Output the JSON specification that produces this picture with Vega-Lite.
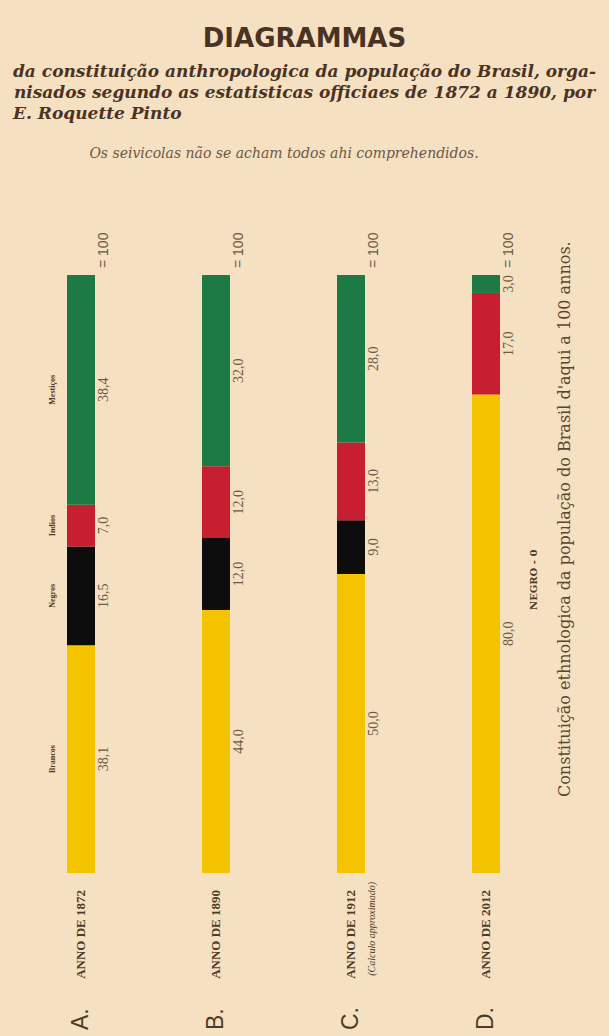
{
  "$schema": "https://vega.github.io/schema/vega-lite/v6.json",
  "autosize": {"type": "none"},
  "width": 540,
  "height": 598,
  "padding": {"left": 13.5, "top": 275, "right": 55.5, "bottom": 163},
  "background": "#f6e0c2",
  "config": {
    "view": {"stroke": null},
    "locale": {"number": {"decimal": ",", "thousands": ".", "grouping": [3], "currency": ["", ""]}}
  },
  "title": {
    "text": "DIAGRAMMAS",
    "subtitle": [
      "da constituição anthropologica da população do Brasil, orga-",
      "nisados segundo as estatisticas officiaes de 1872 a 1890, por",
      "E. Roquette Pinto\u00a0\u00a0\u00a0\u00a0\u00a0\u00a0\u00a0\u00a0\u00a0\u00a0\u00a0\u00a0\u00a0\u00a0\u00a0\u00a0\u00a0\u00a0\u00a0\u00a0\u00a0\u00a0\u00a0\u00a0\u00a0\u00a0\u00a0\u00a0\u00a0\u00a0\u00a0\u00a0\u00a0\u00a0\u00a0\u00a0\u00a0\u00a0\u00a0\u00a0\u00a0\u00a0\u00a0\u00a0\u00a0\u00a0\u00a0\u00a0\u00a0\u00a0\u00a0\u00a0\u00a0\u00a0\u00a0\u00a0\u00a0\u00a0\u00a0\u00a0\u00a0\u00a0\u00a0\u00a0\u00a0\u00a0\u00a0\u00a0\u00a0\u00a0\u200b"
    ],
    "anchor": "middle",
    "dx": 21,
    "offset": 24,
    "font": "DejaVu Sans",
    "fontSize": 26,
    "fontWeight": "bold",
    "color": "#4a3322",
    "subtitleFont": "DejaVu Serif",
    "subtitleFontSize": 17,
    "subtitleFontStyle": "italic",
    "subtitleFontWeight": "bold",
    "subtitleColor": "#4a3322",
    "subtitleLineHeight": 21,
    "subtitlePadding": 12
  },
  "datasets": {
    "bars": [
      {"col": "A", "race": "Brancos", "ordem": 1, "value": 38.1},
      {"col": "A", "race": "Negros", "ordem": 2, "value": 16.5},
      {"col": "A", "race": "Indios", "ordem": 3, "value": 7.0},
      {"col": "A", "race": "Mestiços", "ordem": 4, "value": 38.4},
      {"col": "B", "race": "Brancos", "ordem": 1, "value": 44.0},
      {"col": "B", "race": "Negros", "ordem": 2, "value": 12.0},
      {"col": "B", "race": "Indios", "ordem": 3, "value": 12.0},
      {"col": "B", "race": "Mestiços", "ordem": 4, "value": 32.0},
      {"col": "C", "race": "Brancos", "ordem": 1, "value": 50.0},
      {"col": "C", "race": "Negros", "ordem": 2, "value": 9.0},
      {"col": "C", "race": "Indios", "ordem": 3, "value": 13.0},
      {"col": "C", "race": "Mestiços", "ordem": 4, "value": 28.0},
      {"col": "D", "race": "Brancos", "ordem": 1, "value": 80.0},
      {"col": "D", "race": "Negros", "ordem": 2, "value": 0.0},
      {"col": "D", "race": "Indios", "ordem": 3, "value": 17.0},
      {"col": "D", "race": "Mestiços", "ordem": 4, "value": 3.0}
    ],
    "cols": [
      {"col": "A", "letra": "A.", "anno": "ANNO DE 1872"},
      {"col": "B", "letra": "B.", "anno": "ANNO DE 1890"},
      {"col": "C", "letra": "C.", "anno": "ANNO DE 1912", "nota": "(Calculo approximado)"},
      {"col": "D", "letra": "D.", "anno": "ANNO DE 2012", "aviso": "NEGRO - 0", "legenda": "Constituição ethnologica da população do Brasil d'aqui a 100 annos."}
    ]
  },
  "encoding": {
    "x": {
      "field": "col",
      "type": "nominal",
      "scale": {"domain": ["A", "B", "C", "D"], "paddingInner": 0, "paddingOuter": 0},
      "axis": {
        "orient": "top",
        "labels": false,
        "ticks": false,
        "domain": false,
        "grid": false,
        "title": "Os seivicolas não se acham todos ahi comprehendidos.",
        "titleFont": "DejaVu Serif",
        "titleFontStyle": "italic",
        "titleFontWeight": "normal",
        "titleFontSize": 14,
        "titleColor": "#6b5843",
        "titlePadding": 115
      }
    }
  },
  "layer": [
    {
      "data": {"name": "bars"},
      "transform": [
        {"stack": "value", "groupby": ["col"], "sort": [{"field": "ordem"}], "as": ["v0", "v1"]}
      ],
      "mark": {"type": "bar", "width": 28},
      "encoding": {
        "y": {"field": "v0", "type": "quantitative", "scale": {"domain": [0, 100], "nice": false, "zero": true}, "axis": null},
        "y2": {"field": "v1"},
        "color": {
          "field": "race",
          "type": "nominal",
          "scale": {"domain": ["Brancos", "Negros", "Indios", "Mestiços"], "range": ["#f4c400", "#0d0d0d", "#c81f30", "#1d7a45"]},
          "legend": null
        }
      }
    },
    {
      "data": {"name": "bars"},
      "transform": [
        {"stack": "value", "groupby": ["col"], "sort": [{"field": "ordem"}], "as": ["v0", "v1"]},
        {"filter": "datum.value > 0"},
        {"calculate": "(datum.v0 + datum.v1) / 2", "as": "meio"}
      ],
      "mark": {"type": "text", "angle": 270, "align": "center", "baseline": "middle", "dy": 23, "font": "Liberation Serif", "fontSize": 14, "color": "#6b5a44"},
      "encoding": {
        "y": {"field": "meio", "type": "quantitative", "axis": null},
        "text": {"field": "value", "type": "quantitative", "format": ".1f"}
      }
    },
    {
      "data": {"name": "bars"},
      "transform": [
        {"stack": "value", "groupby": ["col"], "sort": [{"field": "ordem"}], "as": ["v0", "v1"]},
        {"filter": "datum.col == 'A'"},
        {"calculate": "(datum.v0 + datum.v1) / 2", "as": "meio"}
      ],
      "mark": {"type": "text", "angle": 270, "align": "center", "baseline": "middle", "dy": -28, "font": "Liberation Serif", "fontSize": 8, "fontWeight": "bold", "color": "#4d3b27"},
      "encoding": {
        "y": {"field": "meio", "type": "quantitative", "axis": null},
        "text": {"field": "race", "type": "nominal"}
      }
    },
    {
      "data": {"name": "cols"},
      "mark": {"type": "text", "text": "= 100", "angle": 270, "align": "left", "baseline": "middle", "dx": 7, "dy": 23, "font": "Liberation Sans", "fontSize": 14, "color": "#6b5a44"},
      "encoding": {
        "y": {"datum": 100, "type": "quantitative", "axis": null}
      }
    },
    {
      "data": {"name": "cols"},
      "mark": {"type": "text", "angle": 270, "align": "left", "baseline": "middle", "dx": -157, "font": "Liberation Sans", "fontSize": 23, "color": "#4d3b27"},
      "encoding": {
        "y": {"datum": 0, "type": "quantitative", "axis": null},
        "text": {"field": "letra", "type": "nominal"}
      }
    },
    {
      "data": {"name": "cols"},
      "mark": {"type": "text", "angle": 270, "align": "right", "baseline": "middle", "dx": -17, "font": "Liberation Serif", "fontSize": 13, "fontWeight": "bold", "color": "#4d3b27"},
      "encoding": {
        "y": {"datum": 0, "type": "quantitative", "axis": null},
        "text": {"field": "anno", "type": "nominal"}
      }
    },
    {
      "data": {"name": "cols"},
      "transform": [{"filter": "isValid(datum.nota)"}],
      "mark": {"type": "text", "angle": 270, "align": "right", "baseline": "middle", "dx": -9, "dy": 21, "font": "Liberation Serif", "fontSize": 10, "fontStyle": "italic", "color": "#4d3b27"},
      "encoding": {
        "y": {"datum": 0, "type": "quantitative", "axis": null},
        "text": {"field": "nota", "type": "nominal"}
      }
    },
    {
      "data": {"name": "cols"},
      "transform": [{"filter": "isValid(datum.aviso)"}],
      "mark": {"type": "text", "angle": 270, "align": "left", "baseline": "middle", "dx": 263, "dy": 48, "font": "DejaVu Serif", "fontSize": 10, "fontWeight": "bold", "color": "#4d3b27"},
      "encoding": {
        "y": {"datum": 0, "type": "quantitative", "axis": null},
        "text": {"field": "aviso", "type": "nominal"}
      }
    },
    {
      "data": {"name": "cols"},
      "transform": [{"filter": "isValid(datum.legenda)"}],
      "mark": {"type": "text", "angle": 270, "align": "left", "baseline": "middle", "dx": 76, "dy": 79, "font": "DejaVu Serif", "fontSize": 16, "color": "#5a4630"},
      "encoding": {
        "y": {"datum": 0, "type": "quantitative", "axis": null},
        "text": {"field": "legenda", "type": "nominal"}
      }
    }
  ]
}
